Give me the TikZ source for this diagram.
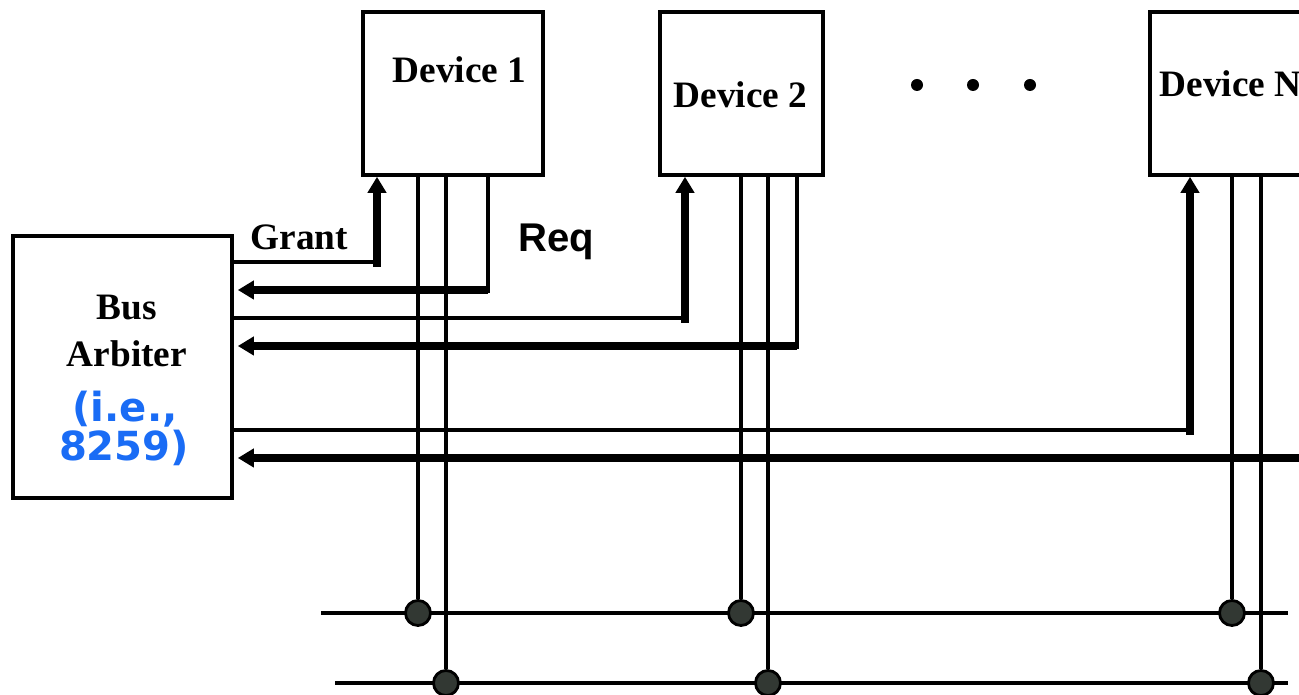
\documentclass[tikz,border=0pt]{standalone}
\usepackage{fontspec}
\setmainfont{Liberation Serif}
\setsansfont{Liberation Sans}
\newfontfamily\verd{DejaVu Sans}
\usepackage{tikz}
\usetikzlibrary{arrows.meta}
\definecolor{ABlue}{HTML}{1A6CF5}
\definecolor{ATap}{HTML}{323833}

\begin{document}
\begin{tikzpicture}[
  x=0.01cm,y=-0.01cm,
  dev/.style={draw,line width=1pt,minimum width=1.8cm,minimum height=1.63cm,inner sep=0pt},
  arb/.style={draw,line width=1pt,minimum width=2.19cm,minimum height=2.62cm,inner sep=0pt},
  lbl/.style={font=\bfseries\fontsize{10.6}{12}\selectfont,inner sep=0pt,anchor=base},
  blu/.style={font=\verd\bfseries\fontsize{11.4}{12}\selectfont,text=ABlue,inner sep=0pt,anchor=base},
  w/.style={line width=0.95pt},
  a/.style={-{Triangle[length=1.6mm,width=1.8mm]},line width=2pt},
  tap/.style={circle,draw,fill=ATap,line width=0.8pt,minimum size=0.25cm,inner sep=0pt}
]
  \useasboundingbox (0,0) rectangle (1299,695);
  \clip (0,0) rectangle (1299,695);
  % boxes
  \node[dev] (dev1) at (453,93.5) {};
  \node[dev,minimum width=1.63cm] (dev2) at (741.5,93.5) {};
  \node[dev] (devN) at (1240,93.5) {};
  \node[arb] (arb) at (122.5,367) {};
  \node[lbl,anchor=base west] (dev1t) at (392,83) {Device 1};
  \node[lbl,anchor=base west] (dev2t) at (673,108) {Device 2};
  \node[lbl,anchor=base west] (devNt) at (1159,97) {Device N};
  \node[lbl] (bus) at (127,320) {Bus};
  \node[lbl] (arbt) at (127,367) {Arbiter};
  \node[blu] (ie) at (125,422) {(i.e.,};
  \node[blu] (num) at (124,461) {8259)};
  \node[lbl,anchor=base west] (grant) at (250,250) {Grant};
  \node[font=\sffamily\bfseries\fontsize{11.4}{12}\selectfont,inner sep=0pt,anchor=base west] (req) at (518,252) {Req};
  \foreach \x in {917,973,1030}
    {\fill (\x,85) circle (0.06cm);}
  % system bus
  \coordinate (b1w) at (321,613);
  \coordinate (b1e) at (1288,613);
  \coordinate (b2w) at (335,683);
  \coordinate (b2e) at (1288,683);
  \draw[w] (b1w) -- (b1e);
  \draw[w] (b2w) -- (b2e);
  % grant / request / bus taps for each device
  \foreach \d/\g/\p/\q/\r/\gy/\ry in {dev1/377/418/446/488/262/290,
      dev2/685/741/768/797/318/346,devN/1190/1232/1261/1340/430/458}{
    \coordinate (g) at (\g,\gy);
    \coordinate (r) at (\r,\ry);
    \draw[w] (arb.east |- g) -- (g);
    \draw[a] ([yshift=-0.05cm]g) -- (g |- \d.south);
    \draw[w] (r |- \d.south) -- ([yshift=-0.03cm]r);
    \draw[a,shorten >=0.04cm] (r) -- (arb.east |- r);
    \node[tap] (t1\d) at (\p,613) {};
    \node[tap] (t2\d) at (\q,683) {};
    \draw[w] (\p,0 |- \d.south) -- (t1\d);
    \draw[w] (\q,0 |- \d.south) -- (t2\d);
  }
\end{tikzpicture}
\end{document}
